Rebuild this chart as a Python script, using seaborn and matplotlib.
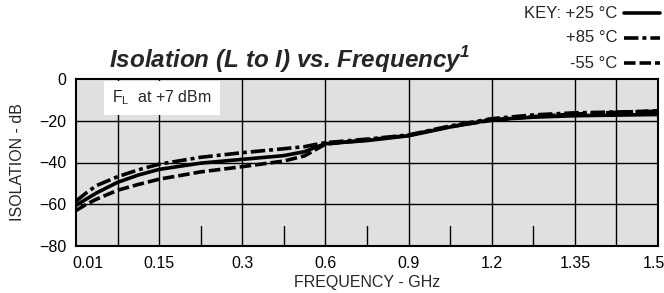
import numpy as np
import pandas as pd
import seaborn as sns
import matplotlib
matplotlib.use("Agg")
import matplotlib.pyplot as plt
from matplotlib.lines import Line2D

# x positions in grid units (0..14), labelled with frequencies in GHz
x_pos = [0, 0.25, 0.5, 1, 1.5, 2, 3, 4, 5, 5.5, 5.75, 6, 7, 8, 9, 10, 11, 12, 13, 14]
iso_p25 = [-60.5, -57.5, -54.5, -49.5, -46.0, -43.3, -40.3, -38.5, -36.7, -34.8, -32.8, -31.0,
           -29.5, -27.2, -23.0, -19.5, -18.3, -17.6, -17.3, -17.0]
iso_p85 = [-58.5, -54.5, -51.0, -46.8, -43.5, -40.8, -37.5, -35.3, -33.4, -32.4, -31.4, -30.5,
           -28.8, -26.8, -22.5, -19.0, -17.2, -16.2, -15.8, -15.5]
iso_m55 = [-63.0, -60.0, -57.5, -53.3, -50.5, -48.0, -44.5, -42.0, -39.3, -36.8, -34.0, -31.2,
           -29.2, -27.0, -22.8, -19.8, -18.0, -16.8, -16.0, -15.2]
temps = ["+25 °C", "+85 °C", "-55 °C"]
tick_pos = [0.29, 2, 4, 6, 8, 10, 12, 13.9]
tick_labels = ["0.01", "0.15", "0.3", "0.6", "0.9", "1.2", "1.35", "1.5"]
y_ticks = [0, -20, -40, -60, -80]

df = pd.concat([
    pd.DataFrame({"x": x_pos, "y": vals, "temp": t})
    for t, vals in zip(temps, [iso_p25, iso_p85, iso_m55])
])

sns.set_theme(style="white")
plt.rcParams['font.family'] = ['Liberation Sans', 'DejaVu Sans']

fig = plt.figure(figsize=(6.64, 2.93), dpi=100)
ax = fig.add_axes([76/664, 1-246/293, 582/664, 167/293])
ax.set_facecolor("#e0e0e0")

dashes = {"+25 °C": "", "+85 °C": (4, 1.1, 1.1, 1.1), "-55 °C": (3.2, 1.1)}
sns.lineplot(data=df, x="x", y="y", style="temp", dashes=dashes, color="black",
             linewidth=2.6, ax=ax, legend=False, estimator=None, sort=False, zorder=3)

ax.set_xlim(0, 14)
ax.set_ylim(-80, 0)
ax.set_xticks(tick_pos)
ax.set_xticklabels(tick_labels)
ax.set_yticks(y_ticks)
for u in [1, 2, 4, 6, 8, 10, 12, 13]:
    ax.axvline(u, color="black", linewidth=1.0, zorder=1)
for v in [-20, -40, -60]:
    ax.axhline(v, color="black", linewidth=1.0, zorder=1)
for u in [3, 5, 7, 9, 11]:
    ax.axvline(u, ymin=0, ymax=0.12, color="black", linewidth=1.0, zorder=1)
ax.tick_params(axis="x", length=0, labelsize=11.5, pad=7, colors="black")
ax.tick_params(axis="y", length=0, labelsize=11.5, pad=7, colors="black")
for s in ax.spines.values():
    s.set_color("black")
    s.set_linewidth(1.5)

ax.set_xlabel("FREQUENCY - GHz", fontsize=11.5, labelpad=3)
ax.set_ylabel("ISOLATION - dB", fontsize=11.5, labelpad=10)

ax.text((112-76)/582, (246-98)/167, r"F$_\mathregular{L}$  at +7 dBm", transform=ax.transAxes,
        fontsize=11.5, va="center", ha="left", zorder=4,
        bbox=dict(facecolor="white", edgecolor="none", boxstyle="square,pad=0.5"))

fig.text(290/664, 1-60/293, "Isolation (L to I) vs. Frequency$^\\mathregular{1}$",
         ha="center", va="center", fontsize=17.5, fontweight="bold", fontstyle="italic")

key_y = [13, 38, 63]
key_txt = ["KEY: +25 °C", "+85 °C", "-55 °C"]
for t, yy, k in zip(temps, key_y, key_txt):
    fig.text(617/664, 1-yy/293, k, ha="right", va="center", fontsize=12)
    ln = Line2D([624/664, 660/664], [1-yy/293, 1-yy/293], transform=fig.transFigure,
                color="black", linewidth=2.6)
    if dashes[t]:
        ln.set_dashes(dashes[t])
    fig.add_artist(ln)

fig.savefig("out.png", dpi=100)
